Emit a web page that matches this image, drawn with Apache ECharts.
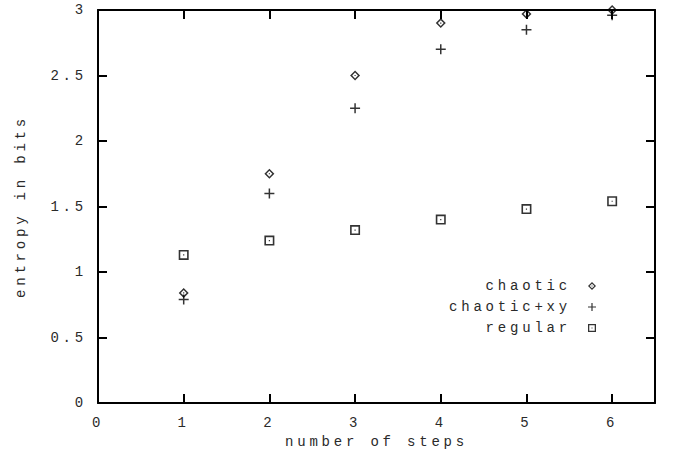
<!DOCTYPE html>
<html>
<head>
<meta charset="utf-8">
<script src="https://cdn.jsdelivr.net/npm/echarts@6/dist/echarts.min.js"></script>
<style>
html,body{margin:0;padding:0;background:#fff;}
#chart{width:673px;height:460px;}
#chart text{letter-spacing:3.8px;}
</style>
</head>
<body>
<div id="chart"></div>
<script>
const steps = [1, 2, 3, 4, 5, 6];
const chaotic = [0.84, 1.75, 2.5, 2.9, 2.97, 3.0];
const chaoticXY = [0.79, 1.6, 2.25, 2.7, 2.85, 2.96];
const regular = [1.13, 1.24, 1.32, 1.4, 1.48, 1.54];
const seriesNames = ['chaotic', 'chaotic+xy', 'regular'];
const xRange = [0, 6.5];
const xStep = 1;
const yRange = [0, 3];
const yStep = 0.5;
const xTitle = 'number of steps';
const yTitle = 'entropy in bits';

const FONT = 'Liberation Mono';
const TXT = '#2a2a2a';
const diamondPath = 'path://M5,0 L10,5 L5,10 L0,5 Z M5,2.1 L2.1,5 L5,7.9 L7.9,5 Z M4.4,4.4 H5.6 V5.6 H4.4 Z';
const plusPath = 'path://M4.25,0 H5.75 V4.25 H10 V5.75 H5.75 V10 H4.25 V5.75 H0 V4.25 H4.25 Z';
const squarePath = 'path://M0,0 H10 V10 H0 Z M1.6,1.6 V8.4 H8.4 V1.6 Z M4.4,4.4 H5.6 V5.6 H4.4 Z';

const pairs = vals => steps.map((x, i) => [x, vals[i]]);

const mkLine = () => ({show: true, onZero: false, lineStyle: {color: '#000', width: 2}});
const mkTick = () => ({show: true, inside: true, length: 9, lineStyle: {color: '#000', width: 2}});
const intFmt = v => (Number.isInteger(v) ? String(v) : '');

function legendFor(name, top) {
  return {
    data: [name], right: 72, top: top, orient: 'vertical', align: 'right',
    itemWidth: 8, itemHeight: 8, selectedMode: false,
    textStyle: {fontFamily: FONT, fontSize: 14, color: TXT, padding: [0, 12, 0, 0]}
  };
}

const chart = echarts.init(document.getElementById('chart'), null, {renderer: 'svg'});
chart.setOption({
  animation: false,
  backgroundColor: '#fff',
  grid: {left: 98, right: 18, top: 10, bottom: 57},
  legend: [legendFor(seriesNames[0], 274), legendFor(seriesNames[1], 295), legendFor(seriesNames[2], 316)],
  xAxis: [{
    type: 'value', min: xRange[0], max: xRange[1], interval: xStep, position: 'bottom',
    name: xTitle, nameLocation: 'middle', nameGap: 31,
    nameTextStyle: {fontFamily: FONT, fontSize: 14, color: TXT},
    axisLine: mkLine(), axisTick: mkTick(), splitLine: {show: false},
    axisLabel: {fontFamily: FONT, fontSize: 14, color: TXT, margin: 13, formatter: intFmt}
  }, {
    type: 'value', min: xRange[0], max: xRange[1], interval: xStep, position: 'top',
    axisLine: mkLine(), axisTick: mkTick(), splitLine: {show: false}, axisLabel: {show: false}
  }],
  yAxis: [{
    type: 'value', min: yRange[0], max: yRange[1], interval: yStep, position: 'left',
    name: yTitle, nameLocation: 'middle', nameGap: 70,
    nameTextStyle: {fontFamily: FONT, fontSize: 14, color: TXT},
    axisLine: mkLine(), axisTick: mkTick(), splitLine: {show: false},
    axisLabel: {fontFamily: FONT, fontSize: 14, color: TXT, margin: 11}
  }, {
    type: 'value', min: yRange[0], max: yRange[1], interval: yStep, position: 'right',
    axisLine: mkLine(), axisTick: mkTick(), splitLine: {show: false}, axisLabel: {show: false}
  }],
  series: [
    {name: seriesNames[0], type: 'scatter', data: pairs(chaotic), symbol: diamondPath, symbolSize: 10, clip: false,
     itemStyle: {color: '#000'}},
    {name: seriesNames[1], type: 'scatter', data: pairs(chaoticXY), symbol: plusPath, symbolSize: 10, clip: false,
     itemStyle: {color: '#000'}},
    {name: seriesNames[2], type: 'scatter', data: pairs(regular), symbol: squarePath, symbolSize: 10, clip: false,
     itemStyle: {color: '#000'}}
  ]
});
</script>
</body>
</html>
